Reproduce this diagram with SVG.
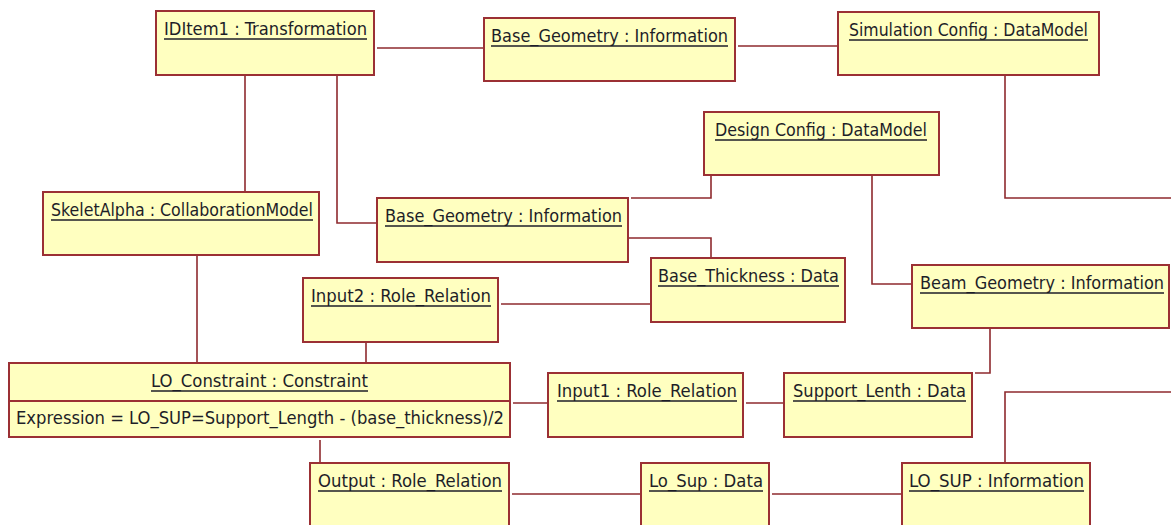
<svg xmlns="http://www.w3.org/2000/svg" width="1171" height="525" viewBox="0 0 1171 525">
<style>
.box{fill:#FFFFC0;stroke:#9B3034;stroke-width:2}
.t{font-family:"DejaVu Sans Condensed","DejaVu Sans",sans-serif;font-size:17px;fill:#1E1E28}
.u{stroke:#1E1E28;stroke-width:1.4}
.c{fill:none;stroke:#8E2A2E;stroke-width:1.6}
</style>
<rect width="1171" height="525" fill="#FFFFFF"/>
<g id="connectors">
<path class="c" d="M377 48 H484"/>
<path class="c" d="M738 46 H838"/>
<path class="c" d="M1005 75 V198 H1171"/>
<path class="c" d="M245 75 V192"/>
<path class="c" d="M337 75 V223 H377"/>
<path class="c" d="M711 175 V198 H631"/>
<path class="c" d="M628 238 H711 V258"/>
<path class="c" d="M872 175 V284 H912"/>
<path class="c" d="M501 304 H651"/>
<path class="c" d="M197 255 V363"/>
<path class="c" d="M366 342 V363"/>
<path class="c" d="M513 403 H548"/>
<path class="c" d="M746 403 H784"/>
<path class="c" d="M990 328 V373 H975"/>
<path class="c" d="M320 440 V463"/>
<path class="c" d="M512 494 H641"/>
<path class="c" d="M772 494 H902"/>
<path class="c" d="M1005 463 V392 H1171"/>
</g>
<g id="iditem1">
<rect class="box" x="156" y="11" width="218" height="64"/>
<text class="t" x="164" y="35" textLength="203" lengthAdjust="spacingAndGlyphs">IDItem1 : Transformation</text>
<line class="u" x1="164" y1="39" x2="367" y2="39"/>
</g>
<g id="base_geometry_top">
<rect class="box" x="484" y="18" width="251" height="63"/>
<text class="t" x="491" y="42" textLength="237" lengthAdjust="spacingAndGlyphs">Base_Geometry : Information</text>
<line class="u" x1="491" y1="46" x2="728" y2="46"/>
</g>
<g id="simulation_config">
<rect class="box" x="838" y="12" width="261" height="63"/>
<text class="t" x="849" y="36" textLength="239" lengthAdjust="spacingAndGlyphs">Simulation Config : DataModel</text>
<line class="u" x1="849" y1="40" x2="1088" y2="40"/>
</g>
<g id="design_config">
<rect class="box" x="704" y="112" width="235" height="63"/>
<text class="t" x="715" y="136" textLength="212" lengthAdjust="spacingAndGlyphs">Design Config : DataModel</text>
<line class="u" x1="715" y1="140" x2="927" y2="140"/>
</g>
<g id="skeletalpha">
<rect class="box" x="43" y="192" width="276" height="63"/>
<text class="t" x="51" y="216" textLength="262" lengthAdjust="spacingAndGlyphs">SkeletAlpha : CollaborationModel</text>
<line class="u" x1="51" y1="220" x2="313" y2="220"/>
</g>
<g id="base_geometry_mid">
<rect class="box" x="377" y="198" width="251" height="64"/>
<text class="t" x="385" y="222" textLength="237" lengthAdjust="spacingAndGlyphs">Base_Geometry : Information</text>
<line class="u" x1="385" y1="226" x2="622" y2="226"/>
</g>
<g id="input2">
<rect class="box" x="303" y="278" width="195" height="64"/>
<text class="t" x="311" y="302" textLength="180" lengthAdjust="spacingAndGlyphs">Input2 : Role_Relation</text>
<line class="u" x1="311" y1="306" x2="491" y2="306"/>
</g>
<g id="base_thickness">
<rect class="box" x="651" y="258" width="194" height="64"/>
<text class="t" x="658" y="282" textLength="181" lengthAdjust="spacingAndGlyphs">Base_Thickness : Data</text>
<line class="u" x1="658" y1="286" x2="839" y2="286"/>
</g>
<g id="beam_geometry">
<rect class="box" x="912" y="265" width="257" height="63"/>
<text class="t" x="920" y="289" textLength="244" lengthAdjust="spacingAndGlyphs">Beam_Geometry : Information</text>
<line class="u" x1="920" y1="293" x2="1164" y2="293"/>
</g>
<g id="lo_constraint">
<rect class="box" x="9" y="363" width="501" height="74"/>
<line x1="9" y1="401" x2="510" y2="401" stroke="#9B3034" stroke-width="2"/>
<text class="t" x="151" y="387" textLength="217" lengthAdjust="spacingAndGlyphs">LO_Constraint : Constraint</text>
<line class="u" x1="151" y1="391" x2="368" y2="391"/>
<text class="t" x="16" y="424" textLength="488" lengthAdjust="spacingAndGlyphs">Expression = LO_SUP=Support_Length - (base_thickness)/2</text>
</g>
<g id="input1">
<rect class="box" x="548" y="373" width="195" height="64"/>
<text class="t" x="557" y="397" textLength="180" lengthAdjust="spacingAndGlyphs">Input1 : Role_Relation</text>
<line class="u" x1="557" y1="401" x2="737" y2="401"/>
</g>
<g id="support_lenth">
<rect class="box" x="784" y="373" width="188" height="64"/>
<text class="t" x="793" y="397" textLength="173" lengthAdjust="spacingAndGlyphs">Support_Lenth : Data</text>
<line class="u" x1="793" y1="401" x2="966" y2="401"/>
</g>
<g id="output">
<rect class="box" x="310" y="463" width="199" height="66"/>
<text class="t" x="318" y="487" textLength="184" lengthAdjust="spacingAndGlyphs">Output : Role_Relation</text>
<line class="u" x1="318" y1="491" x2="502" y2="491"/>
</g>
<g id="lo_sup_data">
<rect class="box" x="641" y="463" width="128" height="66"/>
<text class="t" x="649" y="487" textLength="114" lengthAdjust="spacingAndGlyphs">Lo_Sup : Data</text>
<line class="u" x1="649" y1="491" x2="763" y2="491"/>
</g>
<g id="lo_sup_information">
<rect class="box" x="902" y="463" width="188" height="66"/>
<text class="t" x="909" y="487" textLength="175" lengthAdjust="spacingAndGlyphs">LO_SUP : Information</text>
<line class="u" x1="909" y1="491" x2="1084" y2="491"/>
</g>
</svg>
